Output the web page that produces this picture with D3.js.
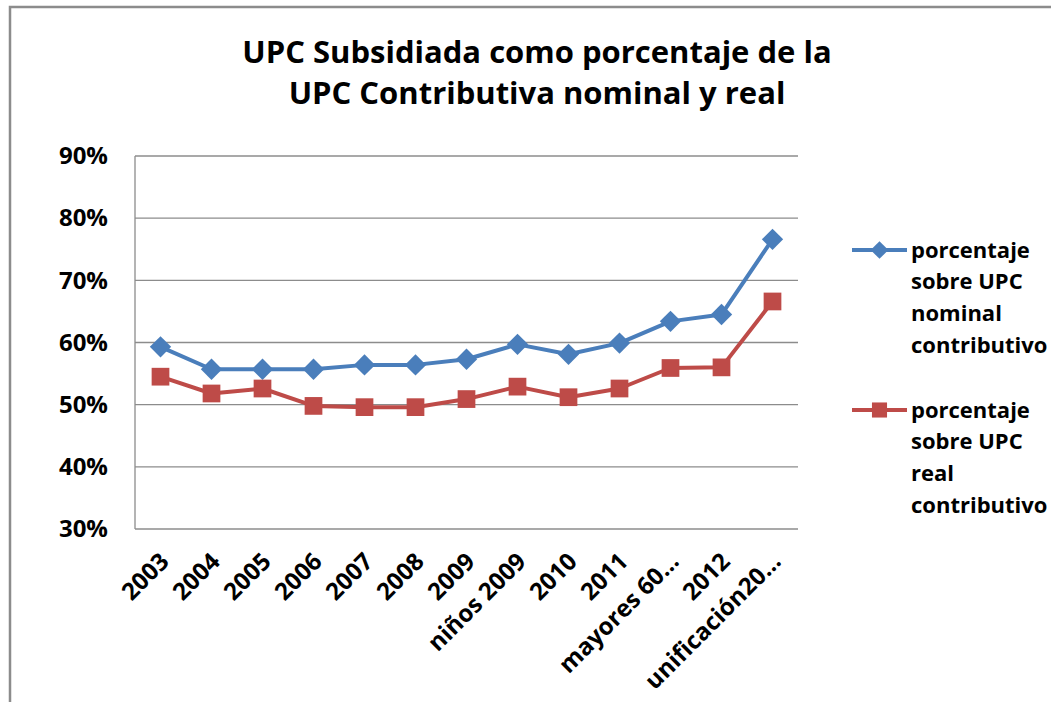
<!DOCTYPE html>
<html>
<head>
<meta charset="utf-8">
<script src="https://cdn.jsdelivr.net/npm/d3@7"></script>
<style>
  body { margin: 0; background: #fff; }
  text { font-family: "Open Sans", Lato, sans-serif; font-weight: bold; fill: #000; }
</style>
</head>
<body>
<div id="chart"></div>
<script>
// categories on the x axis
const categories = ['2003', '2004', '2005', '2006', '2007', '2008', '2009', 'niños 2009',
  '2010', '2011', 'mayores 60...', '2012', 'unificación20...'];

// values in percent
const nominal = [59.3, 55.7, 55.7, 55.7, 56.4, 56.4, 57.3, 59.7, 58.1, 59.9, 63.4, 64.5, 76.6];
const real = [54.5, 51.8, 52.6, 49.8, 49.6, 49.6, 50.9, 52.9, 51.2, 52.6, 55.9, 56.0, 66.6];

const yTicks = [30, 40, 50, 60, 70, 80, 90];
const titleLines = ['UPC Subsidiada como porcentaje de la', 'UPC Contributiva nominal y real'];
const legendNominal = ['porcentaje', 'sobre UPC', 'nominal', 'contributivo'];
const legendReal = ['porcentaje', 'sobre UPC', 'real', 'contributivo'];

const blue = '#4a7ebb';
const red = '#be4b48';

const outerWidth = 1051;
const outerHeight = 702;
const margin = {top: 156, left: 135, right: 253, bottom: 173};
const width = outerWidth - margin.left - margin.right;
const height = outerHeight - margin.top - margin.bottom;

const root = d3.select('#chart')
  .append('svg')
  .attr('width', outerWidth)
  .attr('height', outerHeight);

// chart area border (runs off the right and bottom of the picture)
root.append('rect')
  .attr('x', 10).attr('y', 7)
  .attr('width', 1100).attr('height', 760)
  .attr('fill', 'none')
  .attr('stroke', '#8c8c8c')
  .attr('stroke-width', 2.5);

// title
root.selectAll('.title')
  .data(titleLines)
  .enter()
  .append('text')
  .attr('class', 'title')
  .attr('x', 537)
  .attr('y', (d, i) => 63 + i * 41)
  .attr('text-anchor', 'middle')
  .attr('font-size', 31)
  .text(d => d);

const svg = root.append('g')
  .attr('transform', 'translate(' + margin.left + ',' + margin.top + ')');

const xScale = d3.scaleBand()
  .domain(categories)
  .range([0, width]);

const yScale = d3.scaleLinear()
  .domain([30, 90])
  .range([height, 0]);

const cx = d => xScale(d) + xScale.bandwidth() / 2;

// gridlines
svg.selectAll('.grid')
  .data(yTicks)
  .enter()
  .append('line')
  .attr('x1', 0).attr('x2', width)
  .attr('y1', d => yScale(d)).attr('y2', d => yScale(d))
  .attr('stroke', '#8c8c8c')
  .attr('stroke-width', 1.3);

// y axis line
svg.append('line')
  .attr('x1', 0).attr('x2', 0)
  .attr('y1', 0).attr('y2', height)
  .attr('stroke', '#8c8c8c')
  .attr('stroke-width', 1.3);

const yAxis = d3.axisLeft(yScale)
  .tickValues(yTicks)
  .tickSize(0)
  .tickPadding(27)
  .tickFormat(d => d + '%');

svg.append('g')
  .call(yAxis)
  .call(g => g.select('.domain').remove())
  .selectAll('text')
  .attr('font-size', 24);

const xAxis = d3.axisBottom(xScale)
  .tickSize(0)
  .tickPadding(0);

svg.append('g')
  .attr('transform', 'translate(0,' + height + ')')
  .call(xAxis)
  .call(g => g.select('.domain').remove())
  .selectAll('text')
  .attr('font-size', 24)
  .attr('text-anchor', 'end')
  .attr('dy', '0.35em')
  .attr('transform', 'translate(4,28) rotate(-45)');

const line = d3.line()
  .x((d, i) => cx(categories[i]))
  .y(d => yScale(d));

function drawSeries(values, color, marker) {
  svg.append('path')
    .datum(values)
    .attr('fill', 'none')
    .attr('stroke', color)
    .attr('stroke-width', 4)
    .attr('stroke-linejoin', 'round')
    .attr('d', line);

  svg.selectAll('.m-' + marker)
    .data(values)
    .enter()
    .append('path')
    .attr('class', 'm-' + marker)
    .attr('transform', (d, i) => 'translate(' + cx(categories[i]) + ',' + yScale(d) + ')')
    .attr('d', marker === 'diamond'
      ? d3.symbol(d3.symbolDiamond2, 290)()
      : d3.symbol(d3.symbolSquare2, 400)())
    .attr('fill', color);
}

drawSeries(nominal, blue, 'diamond');
drawSeries(real, red, 'square');

// legend
function legendEntry(y, color, marker, lines) {
  const g = root.append('g').attr('transform', 'translate(852,' + y + ')');
  g.append('line')
    .attr('x1', 0).attr('x2', 55)
    .attr('stroke', color)
    .attr('stroke-width', 4);
  g.append('path')
    .attr('transform', 'translate(27.5,0)')
    .attr('d', marker === 'diamond'
      ? d3.symbol(d3.symbolDiamond2, 200)()
      : d3.symbol(d3.symbolSquare2, 290)())
    .attr('fill', color);
  g.selectAll('text')
    .data(lines)
    .enter()
    .append('text')
    .attr('x', 59)
    .attr('y', (d, i) => i * 31.7)
    .attr('dy', '0.35em')
    .attr('font-size', 22)
    .text(d => d);
}

legendEntry(250, blue, 'diamond', legendNominal);
legendEntry(410, red, 'square', legendReal);
</script>
</body>
</html>
